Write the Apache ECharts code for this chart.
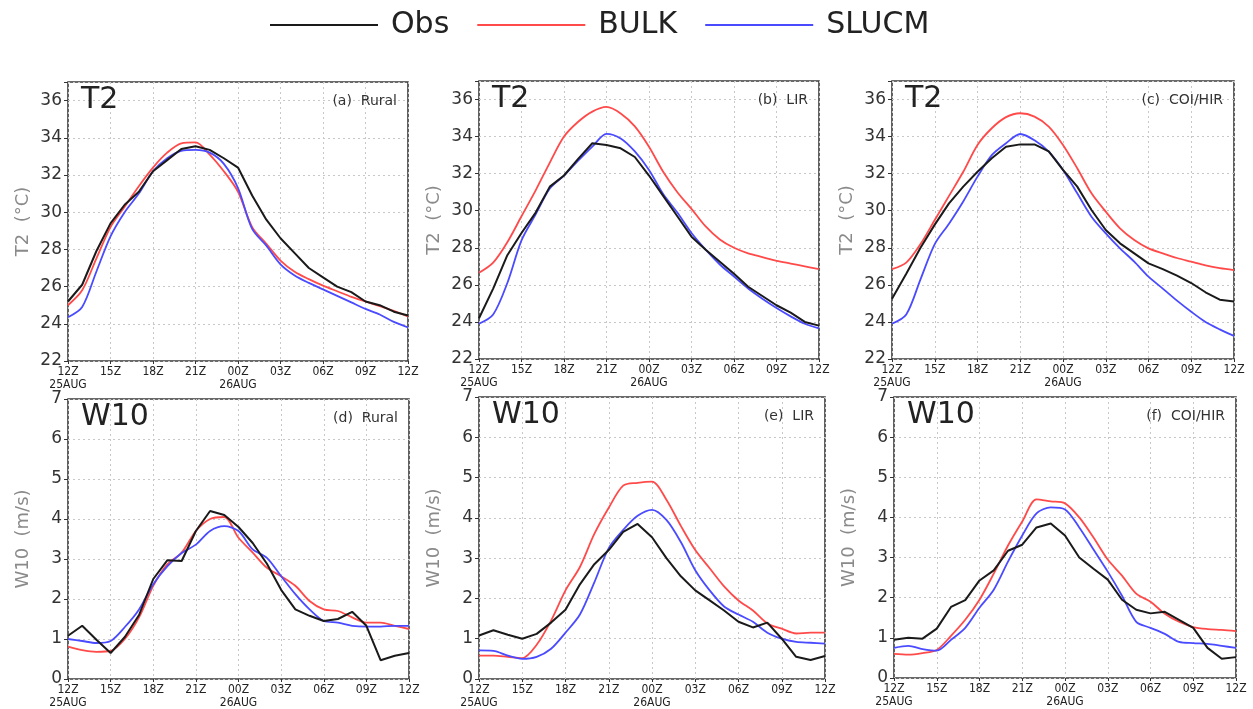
<!DOCTYPE html>
<html>
<head>
<meta charset="utf-8">
<script src="https://cdn.jsdelivr.net/npm/echarts@6/dist/echarts.min.js"></script>
<style>
html,body{margin:0;padding:0;background:#fff;}
#c{width:1253px;height:709px;}
</style>
</head>
<body>
<div id="c"></div>
<script>
// ---- data ----
const hours = [0,1,2,3,4,5,6,7,8,9,10,11,12,13,14,15,16,17,18,19,20,21,22,23,24];
const hourTicks = [0,3,6,9,12,15,18,21,24];
const tickLabels = ['12Z','15Z','18Z','21Z','00Z','03Z','06Z','09Z','12Z'];
const dateLabels = ['25AUG','','','','26AUG','','','',''];
const seriesNames = ['Obs','BULK','SLUCM'];

// (a) T2 Rural
const t2RuralObs   = [25.2,26.1,27.9,29.4,30.4,31.1,32.2,32.8,33.4,33.55,33.35,32.9,32.4,30.9,29.6,28.6,27.8,27.0,26.5,26.0,25.7,25.2,25.0,24.65,24.45];
const t2RuralBulk  = [25.0,25.8,27.5,29.2,30.3,31.4,32.4,33.2,33.7,33.75,33.1,32.2,31.1,29.2,28.3,27.4,26.8,26.4,26.05,25.75,25.45,25.2,24.95,24.7,24.4];
const t2RuralSlucm = [24.35,24.9,26.8,28.7,30.0,31.0,32.2,32.9,33.3,33.35,33.2,32.6,31.3,29.1,28.2,27.2,26.6,26.2,25.85,25.5,25.15,24.8,24.5,24.1,23.8];
// (b) T2 LIR
const t2LirObs   = [24.2,25.8,27.6,28.8,29.9,31.3,31.9,32.8,33.64,33.55,33.37,32.9,31.9,30.8,29.7,28.6,27.9,27.25,26.6,25.9,25.4,24.9,24.5,24.0,23.8];
const t2LirBulk  = [26.65,27.2,28.3,29.7,31.1,32.6,34.0,34.8,35.35,35.6,35.25,34.55,33.45,32.1,31.0,30.1,29.15,28.45,28.0,27.7,27.5,27.3,27.15,27.0,26.85];
const t2LirSlucm = [23.9,24.4,26.1,28.4,29.8,31.2,31.9,32.7,33.46,34.15,33.9,33.2,32.2,30.9,29.9,28.8,27.9,27.1,26.45,25.8,25.25,24.75,24.3,23.9,23.65];
// (c) T2 COI/HIR
const t2HirObs   = [25.25,26.6,28.0,29.25,30.4,31.3,32.1,32.83,33.45,33.58,33.58,33.2,32.2,31.3,30.04,28.96,28.24,27.7,27.16,26.85,26.5,26.1,25.6,25.2,25.1];
const t2HirBulk  = [26.85,27.2,28.2,29.5,30.8,32.1,33.55,34.45,35.05,35.26,35.08,34.54,33.55,32.29,30.94,29.95,29.05,28.42,27.97,27.7,27.45,27.25,27.05,26.9,26.8];
const t2HirSlucm = [23.9,24.4,26.3,28.2,29.3,30.5,31.84,33.0,33.64,34.14,33.8,33.19,32.2,30.94,29.68,28.78,27.97,27.25,26.44,25.8,25.15,24.55,24.0,23.6,23.25];
// (d) W10 Rural
const w10RuralObs   = [1.08,1.33,0.98,0.65,1.05,1.6,2.5,2.97,2.95,3.7,4.2,4.1,3.8,3.4,2.88,2.23,1.74,1.58,1.45,1.5,1.68,1.33,0.47,0.58,0.65];
const w10RuralBulk  = [0.81,0.72,0.68,0.7,1.0,1.54,2.33,2.87,3.16,3.7,4.0,4.05,3.53,3.16,2.78,2.57,2.33,1.95,1.74,1.7,1.54,1.41,1.41,1.33,1.25];
const w10RuralSlucm = [1.0,0.95,0.9,0.95,1.3,1.74,2.37,2.82,3.15,3.36,3.7,3.82,3.7,3.24,3.03,2.57,2.12,1.74,1.45,1.41,1.33,1.31,1.31,1.33,1.33];
// (e) W10 LIR
const w10LirObs   = [1.08,1.21,1.1,1.0,1.12,1.4,1.72,2.35,2.85,3.2,3.65,3.85,3.52,3.0,2.55,2.2,1.95,1.7,1.42,1.28,1.4,1.0,0.55,0.47,0.57];
const w10LirBulk  = [0.58,0.58,0.55,0.52,0.85,1.45,2.2,2.78,3.6,4.25,4.8,4.87,4.9,4.45,3.8,3.2,2.75,2.3,1.95,1.7,1.38,1.25,1.13,1.15,1.15];
const w10LirSlucm = [0.71,0.7,0.58,0.5,0.55,0.75,1.15,1.6,2.4,3.25,3.7,4.05,4.2,3.95,3.4,2.7,2.2,1.8,1.6,1.42,1.15,1.0,0.92,0.9,0.88];
// (f) W10 COI/HIR
const w10HirObs   = [0.95,1.0,0.98,1.23,1.77,1.94,2.43,2.68,3.17,3.32,3.75,3.85,3.55,3.0,2.72,2.45,1.95,1.7,1.61,1.65,1.45,1.25,0.75,0.48,0.52];
const w10HirBulk  = [0.6,0.58,0.62,0.7,1.05,1.45,1.95,2.6,3.3,3.9,4.45,4.4,4.35,4.0,3.5,2.95,2.55,2.1,1.9,1.6,1.4,1.27,1.22,1.2,1.17];
const w10HirSlucm = [0.75,0.8,0.72,0.68,0.95,1.25,1.75,2.2,2.9,3.55,4.1,4.25,4.2,3.75,3.2,2.65,2.05,1.4,1.25,1.1,0.9,0.87,0.85,0.8,0.75];

// ---- layout ----
const panels = [
  {g:{left:68, top:82, width:340, height:279}, name:'T2', tag:'(a)  Rural', yname:'T2  (°C)', min:22, max:37, interval:2, data:[t2RuralObs,t2RuralBulk,t2RuralSlucm]},
  {g:{left:479,top:81, width:340, height:278}, name:'T2', tag:'(b)  LIR', yname:'T2  (°C)', min:22, max:37, interval:2, data:[t2LirObs,t2LirBulk,t2LirSlucm]},
  {g:{left:892,top:81, width:342, height:278}, name:'T2', tag:'(c)  COI/HIR', yname:'T2  (°C)', min:22, max:37, interval:2, data:[t2HirObs,t2HirBulk,t2HirSlucm]},
  {g:{left:68, top:399,width:341, height:281}, name:'W10', tag:'(d)  Rural', yname:'W10  (m/s)', min:0, max:7, interval:1, data:[w10RuralObs,w10RuralBulk,w10RuralSlucm]},
  {g:{left:479,top:397,width:346, height:284}, name:'W10', tag:'(e)  LIR', yname:'W10  (m/s)', min:0, max:7, interval:1, data:[w10LirObs,w10LirBulk,w10LirSlucm]},
  {g:{left:894,top:397,width:342, height:281}, name:'W10', tag:'(f)  COI/HIR', yname:'W10  (m/s)', min:0, max:7, interval:1, data:[w10HirObs,w10HirBulk,w10HirSlucm]}
];
const colors = ['#1a1a1a','#ff4a4a','#4a4aff'];

const grid=[], xAxis=[], yAxis=[], series=[], title=[];
panels.forEach((p,i)=>{
  grid.push(Object.assign({show:true, borderColor:'#3a3a3a', borderWidth:1.6, backgroundColor:'#fff', containLabel:false}, p.g));
  xAxis.push({
    type:'value', gridIndex:i, min:0, max:24, interval:3,
    axisLine:{show:false}, axisTick:{show:true, length:3, lineStyle:{color:'#333'}},
    splitLine:{show:true, lineStyle:{color:'#c8c8c8', type:[2,3], width:1}},
    axisLabel:{
      color:'#222', fontSize:12, fontFamily:'DejaVu Sans Condensed, DejaVu Sans, sans-serif', lineHeight:13, margin:4,
      formatter:(v)=>{ const k = hourTicks.indexOf(v); if(k<0) return ''; return dateLabels[k] ? tickLabels[k]+'\n'+dateLabels[k] : tickLabels[k]; }
    }
  });
  yAxis.push({
    type:'value', gridIndex:i, min:p.min, max:p.max, interval:p.interval,
    name:p.yname, nameLocation:'middle', nameGap:36, nameRotate:90,
    nameTextStyle:{color:'#8a8a8a', fontSize:18, fontFamily:'DejaVu Sans, sans-serif'},
    axisLine:{show:false}, axisTick:{show:true, length:4, lineStyle:{color:'#333'}},
    splitLine:{show:true, lineStyle:{color:'#c8c8c8', type:[2,3], width:1}},
    axisLabel:{color:'#333', fontSize:17, fontFamily:'DejaVu Sans, sans-serif', margin:6,
      formatter:(v)=> (p.min===22 && v===37) ? '' : String(v)}
  });
  p.data.forEach((arr,j)=>{
    series.push({
      name:seriesNames[j], type:'line', xAxisIndex:i, yAxisIndex:i,
      data:hours.map((h,k)=>[h,arr[k]]),
      showSymbol:false, symbol:'none', smooth:j===0?false:0.3,
      lineStyle:{color:colors[j], width:j===0?2:1.8},
      itemStyle:{color:colors[j]}, z: j===0?3:2
    });
  });
  title.push({text:p.name, left:p.g.left+8, top:p.g.top-2,
    textStyle:{fontSize:30, fontWeight:'normal', color:'#222', fontFamily:'DejaVu Sans, sans-serif'}});
  title.push({text:p.tag, right:1253-(p.g.left+p.g.width)+6, top:p.g.top+7,
    textStyle:{fontSize:14, fontWeight:'normal', color:'#333', fontFamily:'DejaVu Sans, sans-serif'}});
});

const chart = echarts.init(document.getElementById('c'), null, {renderer:'canvas'});
chart.setOption({
  animation:false,
  backgroundColor:'#fff',
  title,
  legend:{
    top:5, left:265, itemWidth:108, itemHeight:2, itemGap:28, icon:'rect',
    data:seriesNames,
    textStyle:{fontSize:30, color:'#222', fontFamily:'DejaVu Sans, sans-serif', padding:[0,0,0,8]}
  },
  grid, xAxis, yAxis, series
});
</script>
</body>
</html>
